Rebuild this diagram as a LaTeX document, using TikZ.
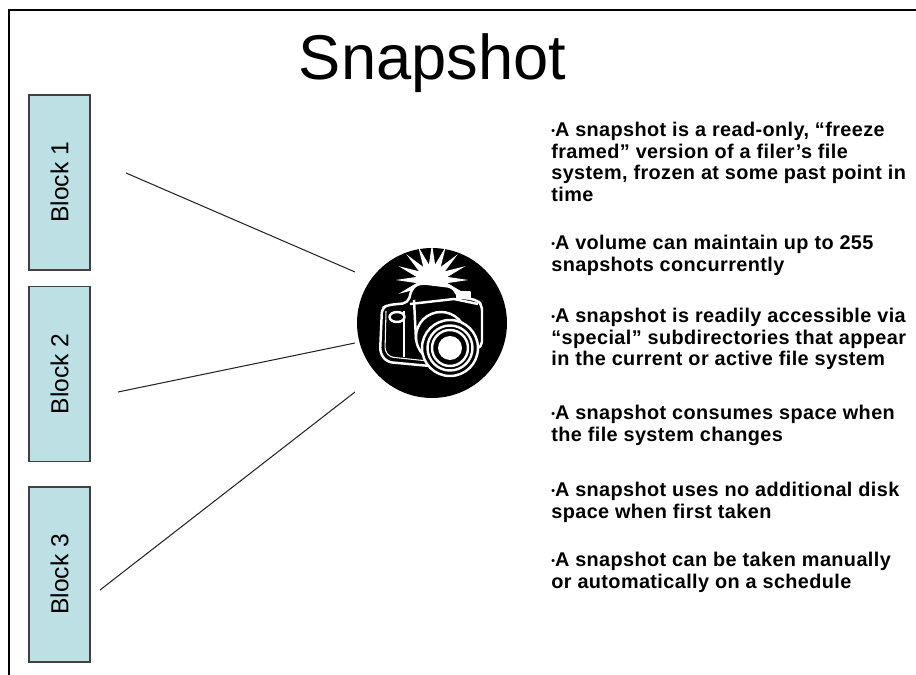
\documentclass[tikz,border=0pt]{standalone}
\usepackage{fontspec}
\setmainfont{Liberation Sans}
\newfontfamily\notefont[LetterSpace=2]{Liberation Sans}
\usepackage{xcolor}
\usetikzlibrary{shapes.geometric}

\definecolor{blockfill}{HTML}{BCE0E4}
\definecolor{blockline}{HTML}{404040}

% small bullet in front of each note
\newcommand{\bul}{\raisebox{1.2pt}{\fontsize{6}{6}\selectfont\textbullet}}

\begin{document}
\begin{tikzpicture}[
    x=0.02cm, y=-0.02cm,
    block/.style={draw=blockline, fill=blockfill, line width=0.6pt, rotate=90,
        minimum width=3.5cm, minimum height=1.22cm, inner sep=0pt,
        font=\fontsize{14}{16}\selectfont},
    note/.style={anchor=north west, align=left, inner sep=0pt,
        font=\fontsize{11.3}{12.3}\selectfont\notefont\bfseries},
    link/.style={line width=0.6pt, black!85},
    camline/.style={draw=white, line width=1.4pt, line join=round}
]
    \useasboundingbox (0,0) rectangle (916,675);

    % frame
    \draw[line width=1.2pt] (9,675) -- (9,10) -- (916,10);

    % title
    \node[anchor=base, inner sep=0pt, font=\fontsize{36}{40}\selectfont] (title) at (432.5,80) {Snapshot};

    % blocks
    \node[block] (b1) at (59.5,182.5) {Block 1};
    \node[block] (b2) at (59.5,374) {Block 2};
    \node[block] (b3) at (59.5,574.5) {Block 3};

    % camera
    \node[circle, fill=black, minimum size=3cm, inner sep=0pt] (cam) at (432,323) {};
    \node[star, star points=16, star point ratio=2.3, fill=white, minimum size=1.45cm, inner sep=0pt] (flash) at (432,280) {};
    \draw[camline, fill=black, rounded corners=3pt]
        (382,308) -- (380,353) -- (387,362) -- (430,366) -- (482,347) -- (482,305)
        -- (477,300) -- (458,297) -- (453,287) -- (420,283) -- (412,288) -- (408,303)
        -- (388,305) -- cycle;
    \draw[white, line width=0.6pt, rounded corners=2pt]
        (386,311) -- (385,351) -- (390,357) -- (428,361);
    \draw[camline] (410,304) -- (454,299) -- (478,304);
    \draw[camline] (404,311) -- (404,357);
    \draw[camline] (414,300) -- (416,340);
    \draw[camline] (397,317) ellipse (0.15cm and 0.1cm);
    \draw[camline, fill=white] (457,292) rectangle (470,298);
    \draw[camline, fill=black] (441,337) circle (0.5cm);
    \draw[camline, fill=black] (450,348) circle (0.56cm);
    \draw[camline] (450,348) circle (0.45cm);
    \draw[camline] (450,348) circle (0.36cm);
    \fill[white] (450,348) circle (0.24cm);

    % links from blocks to camera
    \coordinate (s1) at (126,173);
    \coordinate (s2) at (118,392);
    \coordinate (s3) at (100,590);
    \coordinate (e1) at (355,272);
    \coordinate (e2) at (355,343);
    \coordinate (e3) at (355,392);
    \draw[link] (s1) -- (e1);
    \draw[link] (s2) -- (e2);
    \draw[link] (s3) -- (e3);

    % notes
    \node[note] (p1) at (551,122) {\bul A snapshot is a read-only, “freeze\\framed” version of a filer’s file\\system, frozen at some past point in\\time};
    \node[note] (p2) at (551,235) {\bul A volume can maintain up to 255\\snapshots concurrently};
    \node[note] (p3) at (551,308) {\bul A snapshot is readily accessible via\\“special” subdirectories that appear\\in the current or active file system};
    \node[note] (p4) at (551,405) {\bul A snapshot consumes space when\\the file system changes};
    \node[note] (p5) at (551,482) {\bul A snapshot uses no additional disk\\space when first taken};
    \node[note] (p6) at (551,552) {\bul A snapshot can be taken manually\\or automatically on a schedule};
\end{tikzpicture}
\end{document}
